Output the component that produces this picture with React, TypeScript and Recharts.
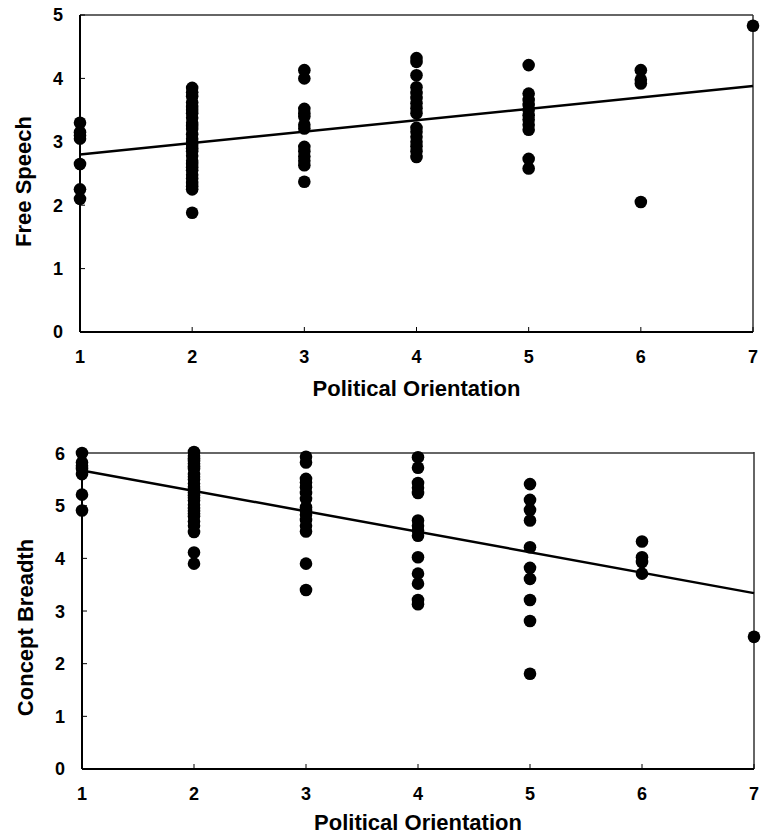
import React from "react";
import { ScatterChart, Scatter, XAxis, YAxis, ReferenceLine, Label } from "recharts";

const FONT = "Arial, 'Liberation Sans', Helvetica, sans-serif";

const orientation = [1, 2, 3, 4, 5, 6, 7];

// free speech scores, one list per orientation level
const freeSpeech: number[][] = [
  [3.3, 3.15, 3.1, 3.05, 2.65, 2.25, 2.1],
  [3.85, 3.78, 3.72, 3.62, 3.55, 3.5, 3.45, 3.38, 3.3, 3.25, 3.2, 3.12, 3.05, 3.0, 2.95, 2.9, 2.85, 2.78, 2.7, 2.65, 2.6, 2.55, 2.48, 2.42, 2.35, 2.3, 2.25, 1.88],
  [4.13, 4.0, 3.52, 3.45, 3.4, 3.27, 3.21, 2.92, 2.85, 2.77, 2.7, 2.63, 2.37],
  [4.32, 4.26, 4.05, 3.86, 3.77, 3.69, 3.61, 3.53, 3.45, 3.22, 3.16, 3.08, 3.0, 2.93, 2.85, 2.76],
  [4.21, 3.76, 3.66, 3.58, 3.5, 3.42, 3.35, 3.27, 3.19, 2.73, 2.58],
  [4.13, 3.98, 3.92, 2.05],
  [4.83],
];
const freeSpeechFit = [2.8, 3.88];
const freeSpeechTicks = [0, 1, 2, 3, 4, 5];

const conceptBreadth: number[][] = [
  [6.0, 5.82, 5.76, 5.7, 5.6, 5.21, 4.91],
  [6.02, 5.95, 5.9, 5.85, 5.8, 5.75, 5.7, 5.6, 5.55, 5.5, 5.42, 5.36, 5.3, 5.25, 5.2, 5.15, 5.1, 5.02, 4.96, 4.9, 4.85, 4.8, 4.7, 4.62, 4.5, 4.11, 3.9],
  [5.93, 5.82, 5.51, 5.44, 5.35, 5.24, 5.13, 4.97, 4.91, 4.83, 4.73, 4.62, 4.51, 3.9, 3.4],
  [5.92, 5.72, 5.43, 5.34, 5.24, 4.72, 4.62, 4.53, 4.43, 4.02, 3.71, 3.52, 3.21, 3.13],
  [5.41, 5.11, 4.92, 4.72, 4.21, 3.82, 3.61, 3.21, 2.81, 1.81],
  [4.32, 4.02, 3.93, 3.71],
  [2.51],
];
const conceptFit = [5.67, 3.34];
const conceptTicks = [0, 1, 2, 3, 4, 5, 6];

const toPoints = (cols: number[][]) =>
  orientation.flatMap((x, i) => cols[i].map((y) => ({ x, y })));

const Dot = (props: any) => <circle cx={props.cx} cy={props.cy} r={6.3} fill="#000" />;

const tickFont = { fill: "#000", fontSize: 18, fontWeight: 700, fontFamily: FONT };
const titleStyle = { fill: "#000", fontSize: 22, fontWeight: 700, fontFamily: FONT };

const XTick = (props: any) => (
  <text x={props.x} y={props.y} dy="0.71em" textAnchor="middle" style={tickFont}>
    {props.payload.value}
  </text>
);

const YTick = (props: any) => (
  <text x={props.x} y={props.y} dy="0.36em" textAnchor="end" style={tickFont}>
    {props.payload.value}
  </text>
);

const yTitle = (value: string, dx: number, dy: number) => (props: any) => {
  const vb = props.viewBox || { x: 0, y: 0, height: 0 };
  const cx = vb.x + dx;
  const cy = vb.y + vb.height / 2 + dy;
  return (
    <text
      x={cx}
      y={cy}
      transform={`rotate(-90, ${cx}, ${cy})`}
      textAnchor="middle"
      dominantBaseline="central"
      style={titleStyle}
    >
      {value}
    </text>
  );
};

interface PanelProps {
  cols: number[][];
  fit: number[];
  ticks: number[];
  title: string;
  height: number;
  top: number;
  right: number;
  yWidth: number;
  xHeight: number;
  xTickMargin: number;
  xTitleOffset: number;
  yTitleDx: number;
  yTitleDy: number;
}

function Panel(p: PanelProps) {
  const yMax = p.ticks[p.ticks.length - 1];
  return (
    <ScatterChart
      width={761}
      height={p.height}
      margin={{ top: p.top, right: p.right, left: 0, bottom: 0 }}
    >
      <XAxis
        type="number"
        dataKey="x"
        domain={[1, 7]}
        ticks={orientation}
        height={p.xHeight}
        axisLine={{ stroke: "#000", strokeWidth: 2 }}
        tickLine={{ stroke: "#000", strokeWidth: 1 }}
        tickSize={-5}
        tickMargin={p.xTickMargin}
        tick={XTick}
      >
        <Label value="Political Orientation" position="insideBottom" offset={p.xTitleOffset} style={titleStyle} />
      </XAxis>
      <YAxis
        type="number"
        dataKey="y"
        domain={[0, yMax]}
        ticks={p.ticks}
        width={p.yWidth}
        axisLine={{ stroke: "#000", strokeWidth: 2 }}
        tickLine={{ stroke: "#000", strokeWidth: 1 }}
        tickSize={-5}
        tickMargin={22}
        tick={YTick}
      >
        <Label content={yTitle(p.title, p.yTitleDx, p.yTitleDy)} />
      </YAxis>
      <ReferenceLine y={yMax} stroke="#333" strokeWidth={1.5} />
      <ReferenceLine x={7} stroke="#333" strokeWidth={1.5} />
      <Scatter data={toPoints(p.cols)} shape={Dot} isAnimationActive={false} />
      <ReferenceLine
        segment={[
          { x: 1, y: p.fit[0] },
          { x: 7, y: p.fit[1] },
        ]}
        stroke="#000"
        strokeWidth={2.5}
      />
    </ScatterChart>
  );
}

export default function App() {
  return (
    <div style={{ position: "absolute", left: 0, top: 0, width: 761, height: 836, background: "#fff" }}>
      <Panel
        cols={freeSpeech}
        fit={freeSpeechFit}
        ticks={freeSpeechTicks}
        title="Free Speech"
        height={410}
        top={15}
        right={8}
        yWidth={80}
        xHeight={78}
        xTickMargin={23}
        xTitleOffset={14}
        yTitleDx={23}
        yTitleDy={8}
      />
      <Panel
        cols={conceptBreadth}
        fit={conceptFit}
        ticks={conceptTicks}
        title="Concept Breadth"
        height={426}
        top={42}
        right={7}
        yWidth={82}
        xHeight={67}
        xTickMargin={23}
        xTitleOffset={6}
        yTitleDx={25}
        yTitleDy={17}
      />
    </div>
  );
}
